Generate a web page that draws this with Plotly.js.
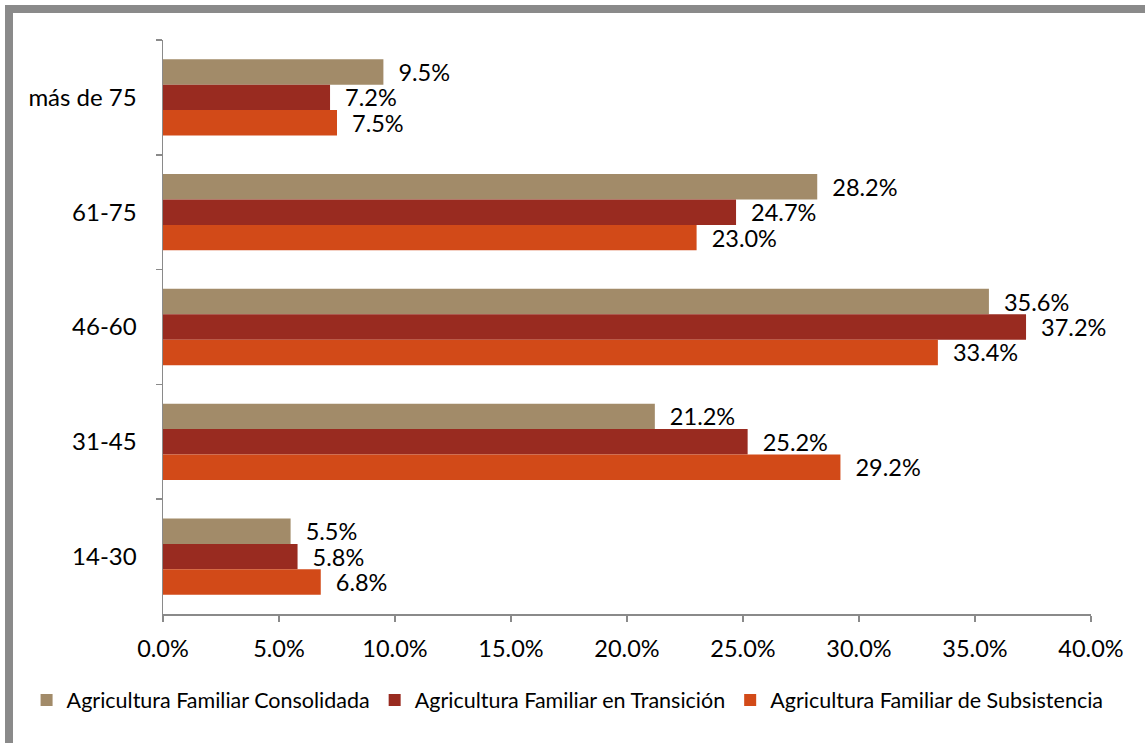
<!DOCTYPE html>
<html>
<head>
<meta charset="utf-8">
<script src="https://cdn.plot.ly/plotly-3.0.1.min.js"></script>
<style>
  html, body { margin: 0; padding: 0; background: #fff; }
  #wrap { position: relative; width: 1145px; height: 743px; overflow: hidden; }
  #chart { position: absolute; left: 0; top: 0; width: 1145px; height: 743px; }
  #frame { position: absolute; left: 5px; top: 5px; width: 1160px; height: 760px;
           border: 8px solid #8a8a8a; box-sizing: border-box; pointer-events: none; }
</style>
</head>
<body>
<div id="wrap">
  <div id="chart"></div>
  <div id="frame"></div>
</div>
<script>
// Categories, top to bottom as shown
const categories = ['más de 75', '61-75', '46-60', '31-45', '14-30'];

const seriesNames = [
  'Agricultura Familiar Consolidada',
  'Agricultura Familiar en Transición',
  'Agricultura Familiar de Subsistencia'
];

const consolidada  = [9.5, 28.2, 35.6, 21.2, 5.5];
const transicion   = [7.2, 24.7, 37.2, 25.2, 5.8];
const subsistencia = [7.5, 23.0, 33.4, 29.2, 6.8];

const xTicks = [0, 5, 10, 15, 20, 25, 30, 35, 40];

const colors = ['#A28B69', '#992B20', '#D24A18'];
const FONT = 'Lato, "Open Sans", sans-serif';
const AX = '#8a8a8a';

const values = [consolidada, transicion, subsistencia];
const traces = values.map((v, i) => ({
  type: 'bar',
  orientation: 'h',
  name: seriesNames[i],
  y: categories,
  x: v,
  marker: { color: colors[i], line: { width: 0 } },
  text: v.map(d => '  ' + d.toFixed(1) + '%'),
  texttemplate: '%{text}',
  textposition: 'outside',
  constraintext: 'none',
  cliponaxis: false,
  textfont: { family: FONT, size: 23.5, color: '#000' },
  hoverinfo: 'x+y+name'
}));

const layout = {
  width: 1145,
  height: 743,
  margin: { l: 163, r: 54, t: 40, b: 129, autoexpand: false },
  paper_bgcolor: '#fff',
  plot_bgcolor: '#fff',
  barmode: 'group',
  bargap: 0.335,
  bargroupgap: 0,
  font: { family: FONT, size: 23, color: '#000' },
  xaxis: {
    range: [0, 40],
    tickvals: xTicks,
    ticktext: xTicks.map(t => t.toFixed(1) + '%'),
    showgrid: false,
    zeroline: false,
    showline: true,
    linecolor: AX,
    linewidth: 1.5,
    ticks: 'outside',
    ticklen: 6,
    tickcolor: AX,
    tickwidth: 1.5,
    tickfont: { family: FONT, size: 23.5, color: '#000' },
    ticklabelstandoff: 7,
    automargin: false,
    fixedrange: true
  },
  yaxis: {
    type: 'category',
    autorange: 'reversed',
    showgrid: false,
    zeroline: false,
    showline: true,
    linecolor: AX,
    linewidth: 1.5,
    ticks: 'outside',
    tickson: 'boundaries',
    ticklen: 6,
    tickcolor: AX,
    tickwidth: 1.5,
    tickfont: { family: FONT, size: 24, color: '#000' },
    ticklabelstandoff: 20,
    automargin: false,
    fixedrange: true
  },
  showlegend: true,
  legend: {
    orientation: 'h',
    x: -0.147,
    xanchor: 'left',
    y: -0.15,
    yanchor: 'middle',
    font: { family: FONT, size: 21.5, color: '#000' },
    itemwidth: 30,
    bgcolor: 'rgba(0,0,0,0)'
  }
};

Plotly.newPlot('chart', traces, layout, { displayModeBar: false, staticPlot: true });
</script>
</body>
</html>
